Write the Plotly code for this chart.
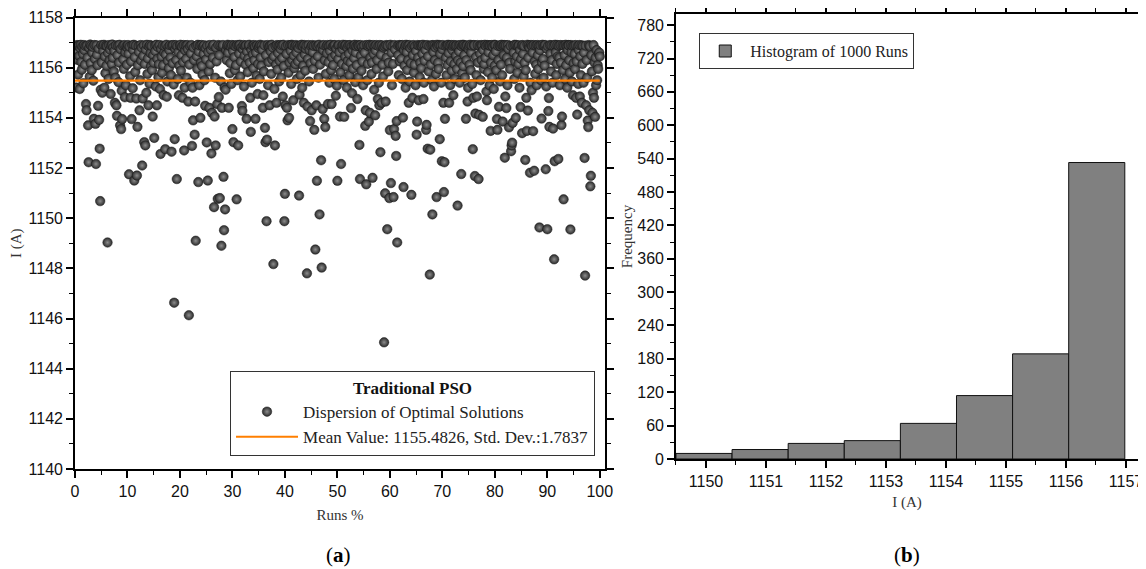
import plotly.graph_objects as go

# ---------------- data ----------------
# Optimal current found in each of 1000 PSO runs (runs 1..1000 -> 0.1 % .. 100 %)
current_runs_001_200 = [
    1156.85, 1155.21, 1156.62, 1156.90, 1156.31, 1155.72, 1156.88, 1156.47, 1155.15, 1156.78,
    1156.91, 1156.23, 1155.92, 1156.84, 1156.55, 1155.38, 1156.90, 1156.70, 1156.12, 1156.86,
    1154.55, 1154.30, 1156.88, 1156.40, 1153.70, 1152.23, 1156.79, 1155.64, 1156.92, 1156.18,
    1156.87, 1155.90, 1156.60, 1156.83, 1155.48, 1153.96, 1156.90, 1156.35, 1153.76, 1152.16,
    1156.89, 1156.52, 1156.10, 1154.48, 1156.76, 1153.92, 1152.77, 1150.68, 1155.12, 1156.90,
    1156.21, 1155.00, 1156.84, 1156.66, 1156.91, 1155.20, 1156.45, 1155.78, 1156.88, 1156.08,
    1156.86, 1149.03, 1156.58, 1155.55, 1156.90, 1156.30, 1156.72, 1154.95, 1156.88, 1156.15,
    1156.92, 1156.40, 1156.81, 1155.85, 1156.67, 1154.60, 1155.60, 1156.89, 1154.50, 1154.08,
    1156.50, 1156.88, 1155.42, 1156.20, 1156.91, 1153.70, 1156.74, 1153.55, 1155.08, 1153.95,
    1156.87, 1156.33, 1155.95, 1156.90, 1154.82, 1156.61, 1155.30, 1156.85, 1156.12, 1156.79,
    1156.90, 1156.56, 1151.75, 1156.84, 1155.66, 1154.80, 1156.25, 1153.95, 1156.89, 1155.18,
    1156.70, 1156.91, 1151.50, 1156.42, 1155.83, 1156.88, 1154.77, 1151.70, 1153.64, 1156.10,
    1156.86, 1156.63, 1154.30, 1155.50, 1156.90, 1156.28, 1156.80, 1152.10, 1154.77, 1156.47,
    1156.89, 1153.03, 1156.15, 1152.90, 1156.72, 1155.00, 1156.91, 1155.75, 1156.37, 1154.50,
    1156.84, 1155.36, 1156.90, 1156.58, 1156.06, 1156.87, 1155.90, 1154.05, 1156.50, 1156.20,
    1153.20, 1156.88, 1156.66, 1155.25, 1156.91, 1154.50, 1156.35, 1156.82, 1155.62, 1156.14,
    1156.90, 1155.15, 1152.56, 1156.75, 1156.44, 1155.80, 1156.88, 1156.10, 1154.90, 1156.60,
    1156.86, 1152.75, 1156.52, 1156.91, 1154.84, 1155.45, 1156.27, 1156.83, 1155.98, 1156.70,
    1156.89, 1156.40, 1155.70, 1152.65, 1156.88, 1156.18, 1156.90, 1155.33, 1146.63, 1153.15,
    1156.76, 1156.90, 1156.30, 1151.56, 1156.85, 1155.55, 1156.62, 1154.90, 1156.08, 1156.87,
]
current_runs_201_400 = [
    1156.91, 1155.88, 1156.50, 1156.84, 1154.80, 1156.22, 1156.90, 1152.70, 1155.20, 1156.69,
    1156.88, 1156.35, 1155.60, 1156.90, 1156.74, 1154.65, 1146.13, 1156.12, 1156.86, 1155.40,
    1156.57, 1156.90, 1152.88, 1155.20, 1153.90, 1156.80, 1156.30, 1153.33, 1154.65, 1149.10,
    1156.87, 1156.45, 1155.95, 1156.91, 1151.44, 1156.64, 1155.30, 1156.88, 1154.00, 1156.20,
    1156.90, 1156.07, 1155.72, 1156.85, 1156.55, 1156.89, 1155.50, 1154.48, 1156.78, 1156.33,
    1153.02, 1156.88, 1151.50, 1156.62, 1155.85, 1154.40, 1156.90, 1156.15, 1156.71, 1152.58,
    1154.20, 1156.86, 1156.40, 1156.91, 1150.44, 1154.05, 1155.60, 1152.90, 1156.80, 1156.25,
    1154.55, 1150.77, 1156.90, 1154.83, 1156.50, 1150.80, 1156.88, 1155.45, 1148.90, 1154.40,
    1156.85, 1156.90, 1151.65, 1149.52, 1155.20, 1150.35, 1155.12, 1156.70, 1156.30, 1156.87,
    1156.91, 1156.60, 1154.40, 1156.88, 1155.78, 1156.18, 1156.84, 1155.35, 1156.90, 1153.55,
    1156.66, 1153.03, 1156.89, 1156.42, 1155.90, 1156.85, 1156.10, 1150.75, 1156.90, 1155.50,
    1152.90, 1156.88, 1156.56, 1156.91, 1155.65, 1156.25, 1156.80, 1154.47, 1154.28, 1156.73,
    1156.90, 1155.25, 1156.48, 1156.86, 1156.12, 1156.89, 1153.96, 1156.64, 1155.82, 1156.36,
    1156.87, 1156.91, 1156.20, 1154.80, 1153.44, 1156.70, 1155.40, 1156.88, 1156.53, 1155.98,
    1156.90, 1156.30, 1156.84, 1153.96, 1156.60, 1155.68, 1156.89, 1154.95, 1156.15, 1156.78,
    1156.86, 1155.55, 1156.91, 1156.40, 1156.08, 1156.88, 1156.72, 1154.40, 1154.90, 1155.85,
    1156.89, 1153.60, 1153.03, 1156.50, 1149.88, 1153.13, 1156.90, 1155.30, 1156.22, 1156.84,
    1154.50, 1156.88, 1156.65, 1155.75, 1156.91, 1156.32, 1156.80, 1148.17, 1156.45, 1155.15,
    1152.90, 1156.86, 1156.12, 1154.60, 1156.90, 1155.92, 1156.58, 1156.87, 1155.45, 1156.27,
    1156.90, 1156.74, 1155.60, 1156.88, 1156.38, 1154.85, 1156.91, 1156.06, 1149.88, 1150.97,
]
current_runs_401_600 = [
    1154.50, 1156.86, 1156.55, 1154.40, 1153.90, 1156.90, 1155.80, 1154.00, 1156.20, 1156.89,
    1156.67, 1155.35, 1156.91, 1156.30, 1156.88, 1154.70, 1156.48, 1155.98, 1156.85, 1156.14,
    1156.90, 1156.60, 1155.55, 1156.87, 1156.25, 1156.78, 1150.90, 1154.92, 1156.89, 1155.70,
    1156.40, 1156.91, 1155.20, 1156.86, 1156.08, 1154.60, 1156.90, 1156.52, 1155.88, 1156.75,
    1156.88, 1147.80, 1154.45, 1156.35, 1156.90, 1155.45, 1156.70, 1153.87, 1156.18, 1156.85,
    1154.30, 1156.90, 1156.62, 1155.95, 1156.87, 1153.52, 1156.28, 1148.75, 1156.89, 1154.50,
    1151.49, 1156.86, 1156.45, 1155.60, 1156.91, 1150.15, 1156.12, 1156.80, 1152.31, 1148.03,
    1156.88, 1154.35, 1156.70, 1156.90, 1153.96, 1156.30, 1153.63, 1155.75, 1156.85, 1156.58,
    1156.90, 1154.55, 1156.22, 1156.87, 1155.40, 1156.66, 1156.91, 1155.90, 1154.55, 1156.40,
    1156.84, 1156.10, 1156.89, 1155.55, 1156.90, 1156.50, 1154.88, 1156.76, 1155.28, 1151.49,
    1156.88, 1156.35, 1156.90, 1156.62, 1154.05, 1155.82, 1152.16, 1156.86, 1156.15, 1156.73,
    1156.91, 1155.50, 1154.04, 1156.87, 1156.44, 1156.90, 1156.06, 1155.20, 1156.80, 1156.28,
    1156.89, 1156.55, 1155.70, 1156.90, 1156.20, 1154.39, 1156.85, 1154.98, 1156.68, 1155.96,
    1156.88, 1156.38, 1156.91, 1155.42, 1156.60, 1156.86, 1156.10, 1154.75, 1156.90, 1155.62,
    1156.87, 1152.92, 1151.56, 1156.90, 1156.48, 1155.88, 1156.84, 1156.25, 1155.30, 1156.70,
    1156.89, 1156.60, 1153.68, 1154.30, 1151.35, 1156.90, 1155.50, 1156.15, 1156.86, 1153.85,
    1156.91, 1154.20, 1156.40, 1156.88, 1155.75, 1156.20, 1151.61, 1156.90, 1156.55, 1155.12,
    1156.85, 1154.10, 1156.68, 1156.90, 1155.95, 1156.30, 1154.75, 1156.87, 1155.40, 1154.50,
    1156.90, 1152.63, 1156.52, 1154.60, 1156.89, 1156.12, 1155.65, 1156.80, 1145.05, 1156.86,
    1150.99, 1154.65, 1156.90, 1156.40, 1149.56, 1156.88, 1155.85, 1156.20, 1150.80, 1153.51,
]
current_runs_601_800 = [
    1156.91, 1151.40, 1156.60, 1155.30, 1156.87, 1156.15, 1150.84, 1153.55, 1156.90, 1156.72,
    1153.28, 1152.48, 1153.87, 1149.03, 1156.88, 1156.50, 1155.70, 1156.90, 1156.25, 1156.85,
    1156.89, 1156.35, 1155.55, 1156.90, 1154.01, 1151.24, 1156.70, 1156.08, 1156.86, 1155.20,
    1156.91, 1156.62, 1155.90, 1156.88, 1156.30, 1154.60, 1156.90, 1155.45, 1156.78, 1156.18,
    1150.93, 1156.87, 1154.80, 1156.50, 1156.90, 1155.80, 1156.12, 1156.85, 1155.30, 1156.66,
    1153.33, 1153.85, 1156.90, 1156.40, 1154.70, 1156.88, 1155.62, 1156.20, 1156.89, 1155.98,
    1156.86, 1156.55, 1156.91, 1154.75, 1155.40, 1156.28, 1156.88, 1156.70, 1153.52, 1153.72,
    1156.90, 1152.77, 1156.45, 1155.85, 1156.87, 1147.75, 1152.73, 1156.12, 1156.89, 1155.50,
    1150.15, 1156.90, 1156.62, 1155.25, 1156.88, 1156.30, 1156.80, 1155.75, 1150.84, 1156.91,
    1156.86, 1156.20, 1155.95, 1156.90, 1153.15, 1156.55, 1156.88, 1155.40, 1152.27, 1156.73,
    1156.90, 1154.60, 1151.04, 1152.23, 1153.96, 1156.87, 1156.40, 1155.70, 1156.89, 1156.10,
    1156.91, 1156.58, 1154.60, 1156.88, 1155.30, 1156.25, 1156.90, 1155.88, 1156.70, 1156.86,
    1154.90, 1156.90, 1156.15, 1155.55, 1156.87, 1156.48, 1156.89, 1155.95, 1150.50, 1156.30,
    1156.88, 1156.65, 1155.40, 1156.90, 1156.20, 1151.76, 1156.85, 1155.78, 1156.91, 1156.07,
    1156.90, 1156.50, 1155.60, 1156.87, 1153.96, 1156.30, 1156.89, 1154.65, 1155.20, 1156.74,
    1156.86, 1156.12, 1156.91, 1155.90, 1156.60, 1156.88, 1155.35, 1152.75, 1154.80, 1156.90,
    1156.89, 1151.68, 1154.17, 1156.42, 1155.70, 1154.85, 1156.90, 1156.20, 1151.56, 1154.12,
    1156.87, 1156.55, 1155.50, 1156.90, 1156.30, 1156.88, 1154.04, 1156.70, 1155.95, 1156.15,
    1156.91, 1156.40, 1156.86, 1155.05, 1154.70, 1156.90, 1155.82, 1156.62, 1156.89, 1155.30,
    1156.88, 1153.48, 1156.20, 1156.90, 1155.60, 1156.85, 1156.50, 1155.15, 1156.91, 1156.08,
]
current_runs_801_1000 = [
    1156.90, 1156.65, 1155.90, 1153.95, 1153.52, 1156.87, 1156.30, 1154.44, 1156.89, 1155.45,
    1156.86, 1156.12, 1156.91, 1155.70, 1153.85, 1156.88, 1156.50, 1156.90, 1152.41, 1154.85,
    1156.89, 1154.39, 1156.40, 1155.30, 1156.90, 1156.75, 1153.62, 1156.20, 1155.95, 1156.87,
    1152.67, 1152.90, 1153.01, 1153.80, 1156.88, 1156.60, 1155.55, 1156.91, 1156.25, 1154.00,
    1156.90, 1156.45, 1155.80, 1156.86, 1156.15, 1156.89, 1155.20, 1156.70, 1154.43, 1156.35,
    1156.88, 1153.39, 1156.90, 1156.55, 1155.65, 1156.87, 1156.20, 1152.32, 1155.90, 1154.80,
    1153.48, 1156.91, 1154.29, 1156.40, 1156.89, 1156.80, 1151.81, 1155.40, 1156.90, 1155.10,
    1156.86, 1156.60, 1153.47, 1156.90, 1151.89, 1156.25, 1155.75, 1156.88, 1156.12, 1155.30,
    1156.90, 1156.50, 1155.95, 1156.87, 1149.63, 1156.70, 1156.89, 1155.50, 1153.97, 1156.20,
    1156.91, 1156.35, 1155.60, 1156.88, 1156.08, 1156.90, 1151.95, 1155.25, 1156.75, 1149.56,
    1156.86, 1154.27, 1154.79, 1153.64, 1156.90, 1156.55, 1155.85, 1156.89, 1156.30, 1155.40,
    1153.57, 1156.88, 1148.36, 1152.27, 1156.91, 1156.60, 1155.70, 1156.15, 1156.90, 1156.45,
    1152.36, 1156.87, 1156.40, 1155.30, 1156.90, 1156.20, 1153.71, 1154.05, 1156.89, 1155.90,
    1150.75, 1156.88, 1156.50, 1155.55, 1156.91, 1156.10, 1156.86, 1155.20, 1156.70, 1156.90,
    1156.89, 1156.30, 1155.80, 1149.55, 1156.90, 1156.62, 1155.45, 1156.87, 1154.90, 1156.18,
    1156.88, 1156.55, 1155.95, 1156.90, 1154.80, 1156.25, 1154.13, 1156.86, 1155.35, 1156.70,
    1156.90, 1154.85, 1156.45, 1155.70, 1156.89, 1154.60, 1156.15, 1156.87, 1155.40, 1156.60,
    1152.40, 1147.71, 1156.88, 1154.50, 1156.30, 1155.60, 1153.89, 1153.63, 1156.90, 1154.30,
    1156.86, 1151.27, 1151.69, 1156.50, 1155.85, 1154.20, 1155.00, 1156.90, 1154.80, 1156.20,
    1154.04, 1156.40, 1155.30, 1156.70, 1155.50, 1156.10, 1155.95, 1156.55, 1156.60, 1156.45,
]
mean_value = 1155.4826
std_dev = 1.7837

# Histogram (panel b)
hist_bin_edges = [1149.5, 1150.435, 1151.37, 1152.305, 1153.24, 1154.175, 1155.11, 1156.045, 1156.98]
hist_counts = [10, 17, 28, 33, 64, 114, 189, 533]

# ---------------- build ----------------
currents = (current_runs_001_200 + current_runs_201_400 + current_runs_401_600
            + current_runs_601_800 + current_runs_801_1000)
n_runs = len(currents)
runs_percent = [100.0 * (i + 1) / n_runs for i in range(n_runs)]

bin_centers = [(a + b) / 2 for a, b in zip(hist_bin_edges[:-1], hist_bin_edges[1:])]
bin_widths = [b - a for a, b in zip(hist_bin_edges[:-1], hist_bin_edges[1:])]

SERIF = "Liberation Serif, Times New Roman, serif"
SANS = "Liberation Sans Narrow, Arial Narrow, Liberation Sans, Arial, sans-serif"

fig = go.Figure()

fig.add_trace(go.Scatter(
    x=runs_percent, y=currents, mode="markers",
    name="Dispersion of Optimal Solutions",
    marker=dict(size=9.5, color="#2b2b2b",
                gradient=dict(type="radial", color="#8c8c8c"),
                line=dict(width=0.5, color="#1a1a1a")),
    xaxis="x", yaxis="y", legend="legend",
))
fig.add_trace(go.Scatter(
    x=[0, 100], y=[mean_value, mean_value], mode="lines",
    name=f"Mean Value: {mean_value}, Std. Dev.:{std_dev}",
    line=dict(color="#ff7f00", width=2.2),
    xaxis="x", yaxis="y", legend="legend",
))
fig.add_trace(go.Bar(
    x=bin_centers, y=hist_counts, width=bin_widths,
    name="Histogram of 1000 Runs",
    marker=dict(color="#808080", line=dict(color="#111111", width=1)),
    xaxis="x2", yaxis="y2", legend="legend2",
))

def axis_style(**kw):
    d = dict(
        showline=True, linecolor="black", linewidth=1.6, mirror="allticks",
        ticks="outside", ticklen=7, tickwidth=1.5, tickcolor="black",
        showgrid=False, zeroline=False, automargin=False,
        tickfont=dict(family=SANS, size=16, color="#111"),
    )
    d.update(kw)
    return d

MINOR = dict(ticks="outside", ticklen=4, tickwidth=1.2, tickcolor="black")

# The page places the figure 8 px in from the window's top-left corner,
# so the figure is 8 px smaller and its margins are trimmed to match.
fig.update_layout(
    width=1138, height=561,
    paper_bgcolor="white", plot_bgcolor="white",
    margin=dict(l=52, r=8, t=6, b=100),
    showlegend=True,
    xaxis=axis_style(domain=[0.0139, 0.5056], range=[0, 101], tick0=0, dtick=10,
                     minor=dict(MINOR, dtick=5),
                     title=dict(text="Runs %", font=dict(family=SERIF, size=15, color="#333"), standoff=10),
                     anchor="y"),
    yaxis=axis_style(domain=[0.0, 0.9923], range=[1140, 1158], tick0=1140, dtick=2,
                     minor=dict(MINOR, dtick=1),
                     title=dict(text="I (A)", font=dict(family=SERIF, size=15, color="#333"), standoff=6),
                     anchor="x"),
    xaxis2=axis_style(domain=[0.5714, 1.0], range=[1149.5, 1157.2], tick0=1150, dtick=1,
                      minor=dict(MINOR, dtick=0.5),
                      title=dict(text="I (A)", font=dict(family=SERIF, size=15, color="#333"), standoff=8),
                      anchor="y2"),
    yaxis2=axis_style(domain=[0.022, 1.0], range=[0, 800], tick0=0, dtick=60,
                      minor=dict(MINOR, dtick=30),
                      title=dict(text="Frequency", font=dict(family=SERIF, size=15, color="#333"), standoff=1),
                      anchor="x2"),
    legend=dict(
        x=0.4963, xanchor="right", y=0.0286, yanchor="bottom",
        bgcolor="white", bordercolor="#333", borderwidth=1,
        font=dict(family=SERIF, size=17, color="#222"),
        title=dict(text="<b>Traditional PSO</b>", side="top center",
                   font=dict(family=SERIF, size=17, color="#111")),
        itemwidth=62, tracegroupgap=2,
    ),
    legend2=dict(
        x=0.593, xanchor="left", y=0.958, yanchor="top",
        bgcolor="white", bordercolor="#333", borderwidth=1,
        font=dict(family=SERIF, size=16, color="#222"),
        itemwidth=40,
    ),
    annotations=[
        dict(text="(<b>a</b>)", x=0.258, y=-0.189, xref="paper", yref="paper",
             xanchor="center", yanchor="middle",
             showarrow=False, font=dict(family=SERIF, size=21, color="black")),
        dict(text="(<b>b</b>)", x=0.786, y=-0.189, xref="paper", yref="paper",
             xanchor="center", yanchor="middle",
             showarrow=False, font=dict(family=SERIF, size=21, color="black")),
    ],
)

fig.write_html("out.html")
